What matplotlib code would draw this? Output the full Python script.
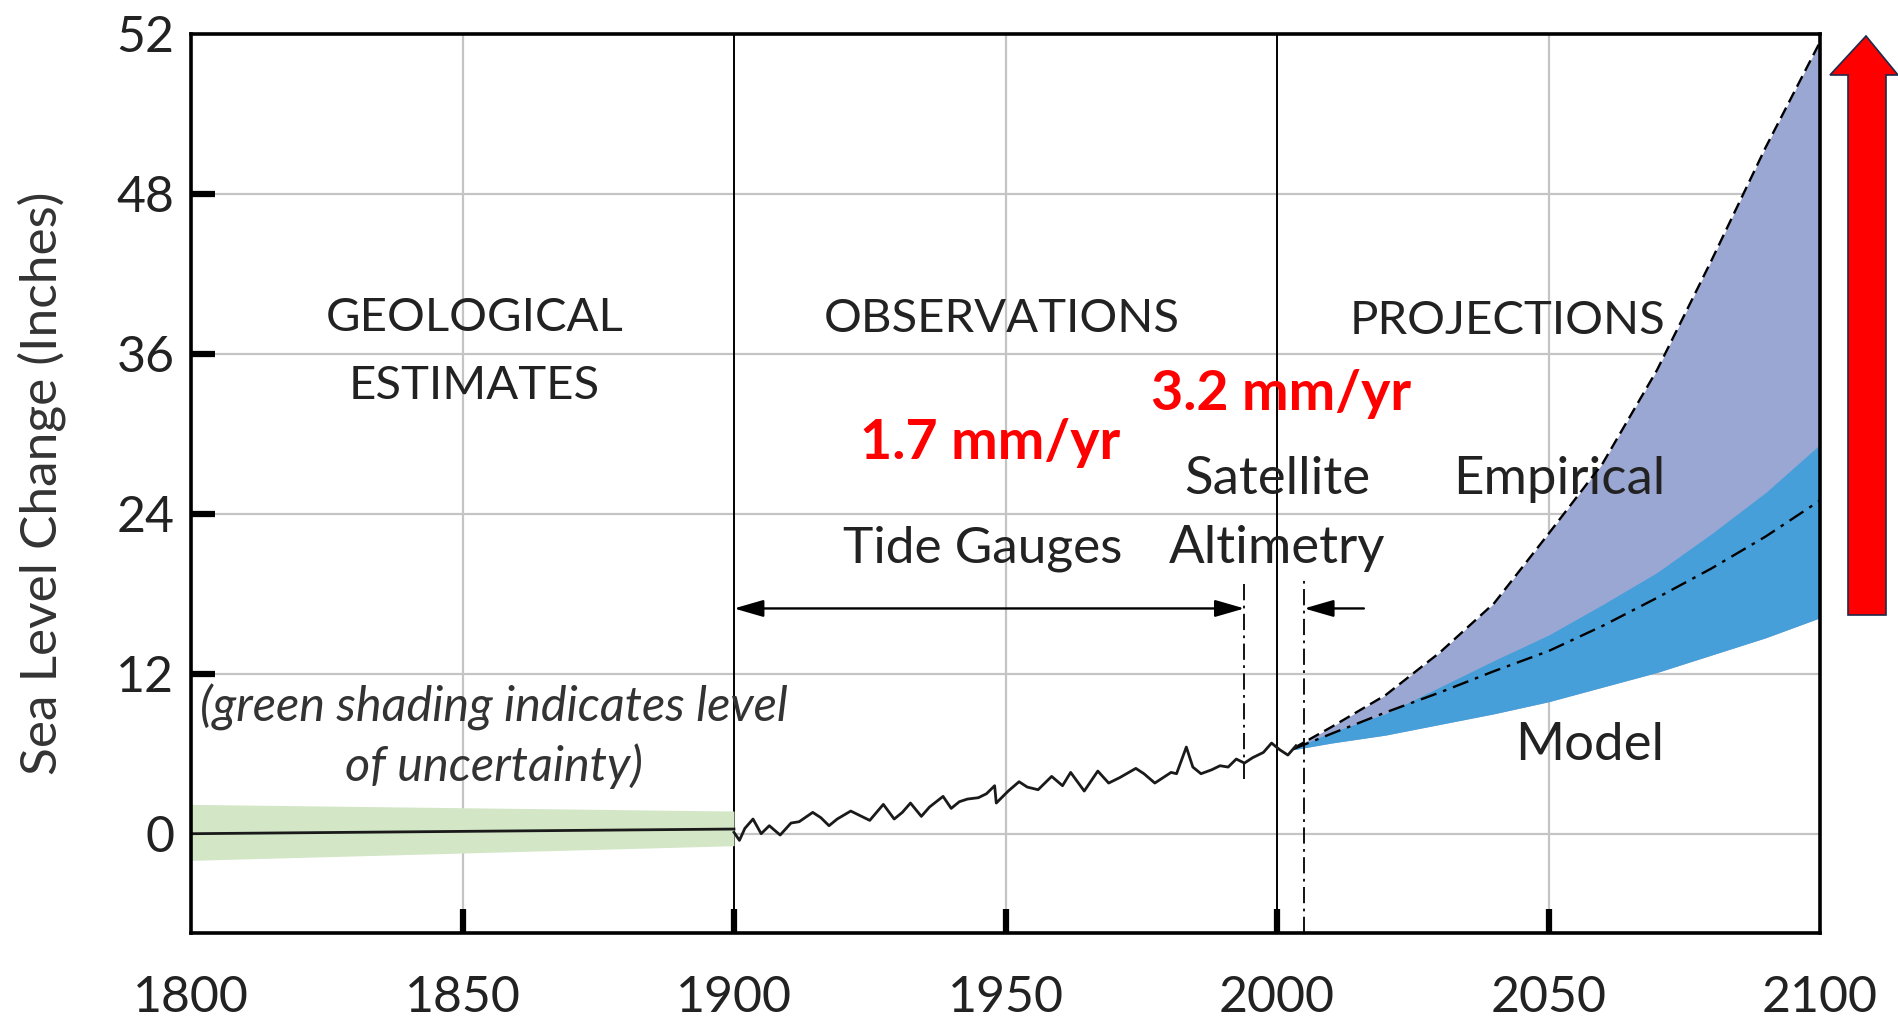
import matplotlib
matplotlib.use("Agg")
import matplotlib.pyplot as plt
from matplotlib.patches import Polygon, ArrowStyle

plt.rcParams['font.family'] = ['Lato', 'DejaVu Sans']

# ---------------- data ----------------
x_ticks = [1800, 1850, 1900, 1950, 2000, 2050, 2100]
x_tick_labels = ['1800', '1850', '1900', '1950', '2000', '2050', '2100']
y_ticks = [0, 12, 24, 36, 48, 60]
y_tick_labels = ['0', '12', '24', '36', '48', '52']

geo_years = [1800, 1900]
geo_level = [0.0, 0.35]
geo_low = [-2.0, -0.9]
geo_high = [2.2, 1.7]

tg_years = [1900, 1901, 1902, 1903.5, 1905, 1906.5, 1908.5, 1910.5, 1912, 1914.5,
            1916, 1917.5, 1919, 1921.5, 1923, 1925, 1927.5, 1929.5, 1931, 1932.5,
            1934.5, 1936, 1938.5, 1940, 1941.5, 1943, 1945, 1946.5, 1948, 1948.3,
            1950.5, 1952.5, 1954, 1956, 1958.5, 1960.5, 1962, 1964.5, 1967, 1969,
            1971, 1974, 1975.5, 1977.5, 1979, 1980.5, 1981.5, 1983.3, 1984.5, 1986,
            1988, 1989.5, 1991, 1992.5, 1994, 1995.5, 1997.5, 1999, 2000.5, 2002,
            2003.5]
tg_level = [0.1, -0.5, 0.4, 1.1, 0.0, 0.6, -0.1, 0.8, 0.9, 1.6,
            1.2, 0.6, 1.1, 1.7, 1.4, 1.0, 2.2, 1.1, 1.6, 2.3,
            1.3, 2.0, 2.8, 1.9, 2.4, 2.6, 2.7, 3.0, 3.6, 2.3,
            3.2, 3.9, 3.5, 3.3, 4.3, 3.6, 4.6, 3.2, 4.7, 3.8,
            4.2, 4.9, 4.5, 3.8, 4.2, 4.6, 4.5, 6.5, 5.0, 4.5,
            4.8, 5.1, 5.0, 5.6, 5.3, 5.7, 6.1, 6.8, 6.3, 5.9,
            6.6]

proj_years = [2003, 2010, 2020, 2030, 2040, 2050, 2060, 2070, 2080, 2090, 2100]
empirical_upper = [6.4, 8.0, 10.4, 13.6, 17.3, 22.5, 27.8, 34.8, 43.0, 51.5, 59.4]
model_upper = [6.4, 7.6, 9.0, 11.0, 13.0, 14.9, 17.2, 19.6, 22.5, 25.6, 29.2]
model_lower = [6.3, 6.8, 7.4, 8.2, 9.0, 9.9, 11.0, 12.1, 13.4, 14.7, 16.2]
model_mid = [6.35, 7.5, 9.1, 10.6, 12.2, 13.7, 15.6, 17.7, 19.9, 22.3, 25.0]

# ---------------- figure ----------------
W, H = 1899, 1019
fig = plt.figure(figsize=(W / 100, H / 100), dpi=100)
ax = fig.add_axes([191 / W, 1 - 933 / H, (1820 - 191) / W, (933 - 34) / H])
ax.set_xlim(1800, 2100)
ax.set_ylim(-7.45, 60)

grid_c = '#c4c4c4'
for y in [0, 12, 24, 36, 48]:
    ax.axhline(y, color=grid_c, lw=1.6, zorder=0)
for x in [1850, 1950, 2050]:
    ax.axvline(x, color=grid_c, lw=1.6, zorder=0)
for x in [1900, 2000]:
    ax.axvline(x, color='black', lw=1.4, zorder=1)

# geological
ax.fill_between(geo_years, geo_low, geo_high, color='#d3e6c6', lw=0, zorder=2)
ax.plot(geo_years, geo_level, color='#1a1a1a', lw=2.0, zorder=3)

# projections
ax.fill_between(proj_years, model_lower, empirical_upper, color='#9ba7d3', lw=0, zorder=2)
ax.fill_between(proj_years, model_lower, model_upper, color='#469fd8', lw=0, zorder=2)
ax.plot(proj_years, empirical_upper, color='black', lw=1.7, ls=(0, (5, 2.5)), zorder=4)
ax.plot(proj_years, model_mid, color='black', lw=1.7, ls=(0, (7, 3, 1.5, 3)), zorder=4)

# tide gauges
ax.plot(tg_years, tg_level, color='#1a1a1a', lw=2.0, zorder=5)

# satellite period lines
ax.plot([1994, 1994], [4.1, 19.0], color='black', lw=1.3, ls=(0, (9, 3, 1.5, 3)), zorder=4)
ax.plot([2005, 2005], [-7.45, 19.0], color='black', lw=1.3, ls=(0, (9, 3, 1.5, 3)), zorder=4)

style2 = ArrowStyle('<|-|>', head_length=0.45, head_width=0.13)
style1 = ArrowStyle('-|>', head_length=0.45, head_width=0.13)
ax.annotate('', xy=(1900, 16.9), xytext=(1994, 16.9),
            arrowprops=dict(arrowstyle=style2, color='black', lw=1.7,
                            mutation_scale=40, shrinkA=0, shrinkB=0), zorder=6)
ax.annotate('', xy=(2005, 16.9), xytext=(2016, 16.9),
            arrowprops=dict(arrowstyle=style1, color='black', lw=1.7,
                            mutation_scale=40, shrinkA=0, shrinkB=0), zorder=6)

# ticks
ax.set_xticks(x_ticks)
ax.set_xticklabels(x_tick_labels)
ax.set_yticks(y_ticks)
ax.set_yticklabels(y_tick_labels)
ax.tick_params(axis='both', direction='in', length=17, width=4.5, color='black',
               labelsize=36, labelcolor='#222222')
ax.tick_params(axis='x', pad=30)
ax.tick_params(axis='y', pad=12)
xt = ax.xaxis.get_major_ticks()
xt[0].tick1line.set_visible(False)
xt[-1].tick1line.set_visible(False)
ax.yaxis.get_major_ticks()[-1].tick1line.set_visible(False)

for s in ax.spines.values():
    s.set_linewidth(2.6)
    s.set_color('black')
    s.set_zorder(10)

ax.set_ylabel('Sea Level Change (Inches)', fontsize=37, color='#333333', labelpad=36)

# texts
tc = '#222222'
fc = 34   # all-caps headings
fl = 38   # mixed-case labels
ax.text(1852.2, 38.7, 'GEOLOGICAL', ha='center', va='center', fontsize=fc, color=tc)
ax.text(1852.2, 33.6, 'ESTIMATES', ha='center', va='center', fontsize=fc, color=tc)
ax.text(1949.4, 38.6, 'OBSERVATIONS', ha='center', va='center', fontsize=fc, color=tc)
ax.text(2042.5, 38.5, 'PROJECTIONS', ha='center', va='center', fontsize=fc, color=tc)
ax.text(2000.1, 26.6, 'Satellite', ha='center', va='center', fontsize=fl, color=tc)
ax.text(2000.1, 21.4, 'Altimetry', ha='center', va='center', fontsize=fl, color=tc)
ax.text(1945.8, 21.4, 'Tide Gauges', ha='center', va='center', fontsize=37, color=tc)
ax.text(2052.0, 26.6, 'Empirical', ha='center', va='center', fontsize=fl, color=tc)
ax.text(2057.6, 6.6, 'Model', ha='center', va='center', fontsize=fl, color=tc)
ax.text(1855.8, 9.5, '(green shading indicates level', ha='center', va='center',
        fontsize=35, color='#333333', style='italic')
ax.text(1855.8, 5.1, 'of uncertainty)', ha='center', va='center',
        fontsize=35, color='#333333', style='italic')
ax.text(1947.2, 29.3, '1.7 mm/yr', ha='center', va='center', fontsize=40,
        color='#ff0000', fontweight='bold')
ax.text(2000.7, 33.0, '3.2 mm/yr', ha='center', va='center', fontsize=40,
        color='#ff0000', fontweight='bold')

# red arrow (outside axes, in figure pixel coords)
pts = [(1866, 36), (1898, 75), (1886, 75), (1886, 615), (1848, 615), (1848, 75), (1830, 75)]
poly = Polygon([(x / W, 1 - y / H) for x, y in pts], closed=True, transform=fig.transFigure,
               facecolor='#ff0000', edgecolor='#1f2a4a', lw=1.2, clip_on=False)
fig.patches.append(poly)

fig.savefig('out.png', dpi=100)
